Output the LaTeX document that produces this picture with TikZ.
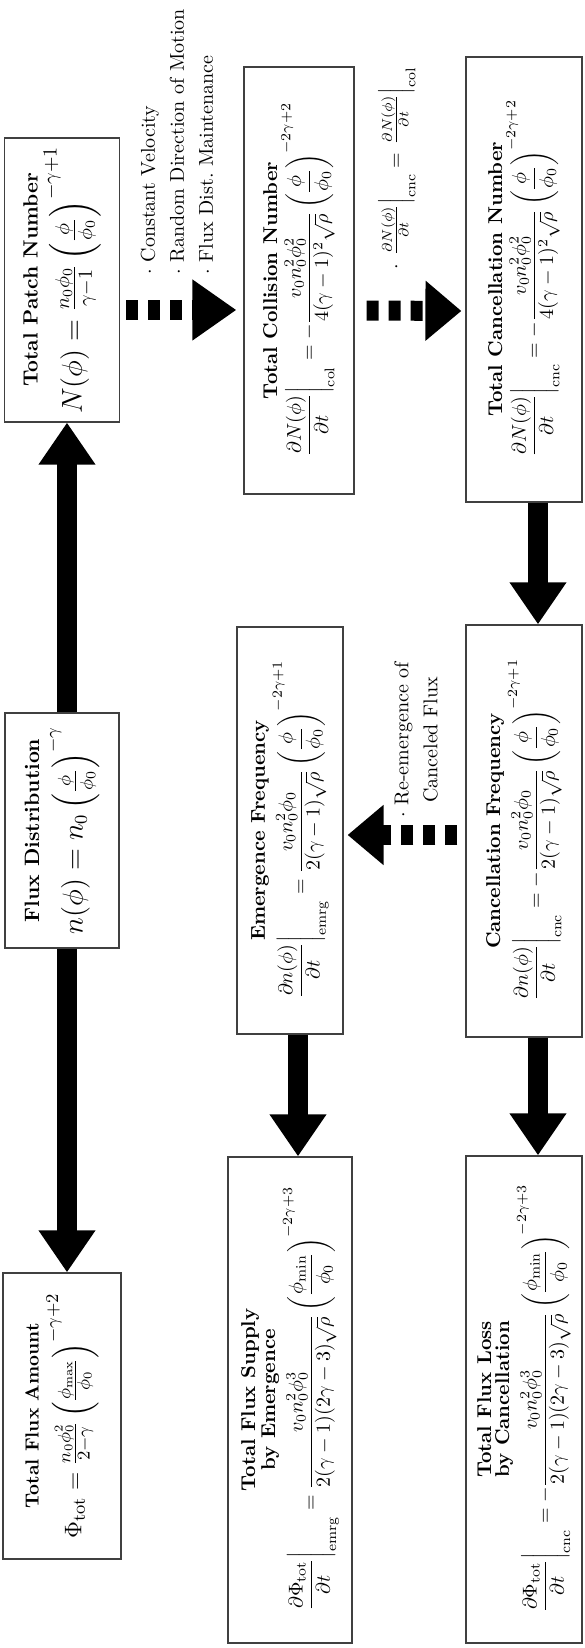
\documentclass[tikz,border=0pt]{standalone}
\usepackage{amsmath,amssymb}
\usepackage{tikz}
\usetikzlibrary{arrows.meta, positioning, calc}

\begin{document}
\begin{tikzpicture}[
  x=1pt, y=1pt, rotate=90, transform shape,
  box/.style={draw=black!75, line width=0.6pt, fill=white, align=center, inner sep=2pt},
  flow/.style={line width=10pt, -{Triangle[length=21pt, width=27pt]}},
  jump/.style={flow, -{Triangle[length=18pt, width=29pt]}, dash pattern=on 6pt off 5pt},
  note/.style={anchor=west, align=left, inner sep=0pt, font=\fontsize{10}{14.5}\selectfont}
]
\useasboundingbox (0,0) rectangle (824,292);

% first row
\node[box, minimum width=143pt, minimum height=59pt] (amount) at (116,261)
  {\fontsize{9.5}{11}\selectfont\textbf{Total Flux Amount}\\[3pt]
   \fontsize{13}{15}\selectfont
   $\Phi_\mathrm{tot} = \frac{n_0\phi_0^2}{2-\gamma}\left(\frac{\phi_\mathrm{max}}{\phi_0}\right)^{-\gamma+2}$};
\node[box, minimum width=117.5pt, minimum height=57pt] (dist) at (408.75,261)
  {\fontsize{10.4}{12}\selectfont\textbf{Flux Distribution}\\[3pt]
   \fontsize{13.3}{15}\selectfont
   $n(\phi) = n_0\left(\frac{\phi}{\phi_0}\right)^{-\gamma}$};
\node[box, minimum width=142pt, minimum height=57.5pt] (patch) at (684,261)
  {\fontsize{10.3}{12}\selectfont\textbf{Total Patch Number}\\[2pt]
   \fontsize{14.4}{16}\selectfont
   $N(\phi) = \frac{n_0\phi_0}{\gamma-1}\left(\frac{\phi}{\phi_0}\right)^{-\gamma+1}$};

% second row
\node[box, minimum width=243pt, minimum height=62pt] (supply) at (124,147)
  {\textbf{Total Flux Supply}\\[-2pt] \textbf{by Emergence}\\[1pt]
   $\displaystyle\left.\frac{\partial\Phi_\mathrm{tot}}{\partial t}\right|_\mathrm{emrg}
    = \frac{v_0 n_0^2\phi_0^3}{2(\gamma-1)(2\gamma-3)\sqrt{\rho}}\left(\frac{\phi_\mathrm{min}}{\phi_0}\right)^{-2\gamma+3}$};
\node[box, minimum width=203.5pt, minimum height=53pt] (emfreq) at (408.75,147)
  {\textbf{Emergence Frequency}\\[1pt]
   $\displaystyle\left.\frac{\partial n(\phi)}{\partial t}\right|_\mathrm{emrg}
    = \frac{v_0 n_0^2\phi_0}{2(\gamma-1)\sqrt{\rho}}\left(\frac{\phi}{\phi_0}\right)^{-2\gamma+1}$};
\node[box, minimum width=213.5pt, minimum height=55pt] (coll) at (683.75,142.5)
  {\textbf{Total Collision Number}\\[1pt]
   $\displaystyle\left.\frac{\partial N(\phi)}{\partial t}\right|_\mathrm{col}
    = -\frac{v_0 n_0^2\phi_0^2}{4(\gamma-1)^2\sqrt{\rho}}\left(\frac{\phi}{\phi_0}\right)^{-2\gamma+2}$};

% third row
\node[box, minimum width=243.5pt, minimum height=58pt] (loss) at (124.25,30)
  {\textbf{Total Flux Loss}\\[-3pt] \textbf{by Cancellation}\\[1pt]
   $\displaystyle\left.\frac{\partial\Phi_\mathrm{tot}}{\partial t}\right|_\mathrm{cnc}
    = -\frac{v_0 n_0^2\phi_0^3}{2(\gamma-1)(2\gamma-3)\sqrt{\rho}}\left(\frac{\phi_\mathrm{min}}{\phi_0}\right)^{-2\gamma+3}$};
\node[box, minimum width=206pt, minimum height=58pt] (cnfreq) at (408.5,30)
  {\textbf{Cancellation Frequency}\\[1pt]
   $\displaystyle\left.\frac{\partial n(\phi)}{\partial t}\right|_\mathrm{cnc}
    = -\frac{v_0 n_0^2\phi_0}{2(\gamma-1)\sqrt{\rho}}\left(\frac{\phi}{\phi_0}\right)^{-2\gamma+1}$};
\node[box, minimum width=222.5pt, minimum height=58pt] (cncnum) at (684.25,30)
  {\textbf{Total Cancellation Number}\\[1pt]
   $\displaystyle\left.\frac{\partial N(\phi)}{\partial t}\right|_\mathrm{cnc}
    = -\frac{v_0 n_0^2\phi_0^2}{4(\gamma-1)^2\sqrt{\rho}}\left(\frac{\phi}{\phi_0}\right)^{-2\gamma+2}$};

% solid arrows
\draw[flow] ($(dist.west)+(0,-2.5)$) -- ($(amount.east)+(0,-2.5)$);
\draw[flow] ($(dist.east)+(0,-2.5)$) -- ($(patch.west)+(0,-2.5)$);
\draw[flow] ($(emfreq.west)+(0,-4)$) -- ($(supply.east)+(0,-4)$);
\draw[flow] ($(cncnum.west)+(0,-7)$) -- ($(cnfreq.east)+(0,-7)$);
\draw[flow] ($(cnfreq.west)+(0,-7)$) -- ($(loss.east)+(0,-7)$);

% dashed arrows
\draw[jump, -{Triangle[length=22pt, width=29pt]}, shorten <=3pt, shorten >=3.5pt]
  ($(patch.south)+(-15,0)$) -- ($(coll.north)+(-14.75,0)$);
\draw[jump, shorten <=6pt, shorten >=2pt]
  ($(coll.south)+(-15,0)$) -- ($(cncnum.north)+(-15.75,0)$);
\draw[jump, shorten <=4pt, shorten >=2pt]
  ($(cnfreq.north)+(-2,0)$) -- ($(emfreq.south)+(-2.25,0)$);

% notes
\node[note] (motion) at (686.5,203.5)
  {$\cdot$ Constant Velocity\\ $\cdot$ Random Direction of Motion\\ $\cdot$ Flux Dist.\ Maintenance};
\node[note] (same) at (689,93.5)
  {$\cdot$ $\left.\frac{\partial N(\phi)}{\partial t}\right|_\mathrm{cnc} = \left.\frac{\partial N(\phi)}{\partial t}\right|_\mathrm{col}$};
\node[note, align=center] (reem) at (415,84)
  {$\cdot$ Re-emergence of\\ Canceled Flux};

\end{tikzpicture}
\end{document}
